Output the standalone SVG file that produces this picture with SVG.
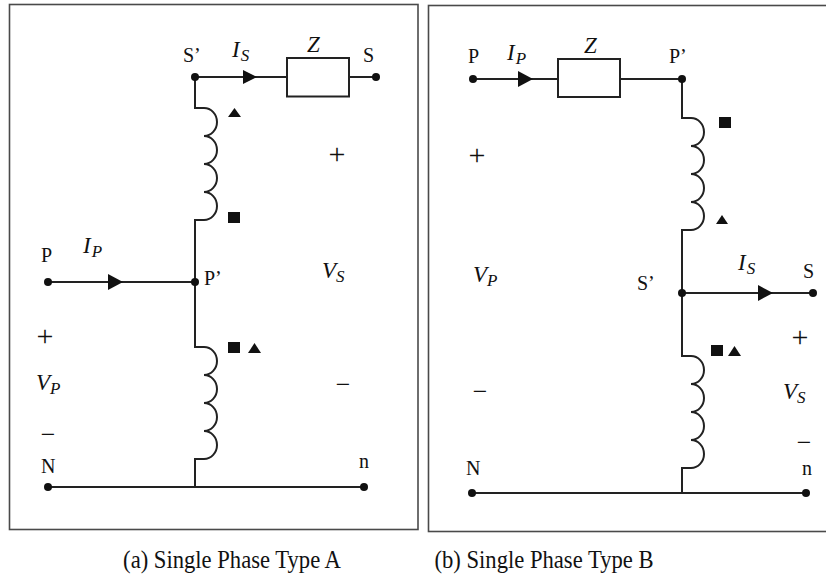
<svg xmlns="http://www.w3.org/2000/svg" width="826" height="579" viewBox="0 0 826 579">
<style>
.frame{fill:none;stroke:#4a4a4a;stroke-width:1.6}
.w{fill:none;stroke:#222;stroke-width:2;stroke-linejoin:miter}
.dot{fill:#111}
.mk{fill:#111}
.t{font-family:'Liberation Serif','Times New Roman',serif;font-size:20px;fill:#111}
.m{font-family:'Liberation Serif','Times New Roman',serif;font-style:italic;font-size:23px;fill:#111}
.sub{font-size:17px}
.pm{font-family:'Liberation Serif','Times New Roman',serif;font-size:30px;fill:#111;text-anchor:middle}
.mn{font-family:'Liberation Serif','Times New Roman',serif;font-size:26px;fill:#111;text-anchor:middle}
.cap{font-family:'Liberation Serif','Times New Roman',serif;font-size:26px;fill:#111;text-anchor:middle}
</style>
<rect width="826" height="579" fill="#fff"/>
<rect class="frame" x="9.5" y="4.5" width="408.5" height="525"/>
<rect class="frame" x="428.5" y="5.5" width="400" height="526"/>

<g id="connectors">
  <path class="w" d="M195,77 H287 M349,77 H376"/>
  <path class="w" d="M195,77 V108 H204 A13 14 0 0 1 204,136 A13 14 0 0 1 204,164 A13 14 0 0 1 204,192 A13 14 0 0 1 204,220 H195 V282"/>
  <path class="w" d="M48,282 H195"/>
  <path class="w" d="M195,282 V347 H204 A13 14 0 0 1 204,375 A13 14 0 0 1 204,403 A13 14 0 0 1 204,431 A13 14 0 0 1 204,459 H195 V487"/>
  <path class="w" d="M48,487 H364"/>
  <polygon class="mk" points="243,70 257,77 243,84"/>
  <polygon class="mk" points="108,274 123,282 108,290"/>
  <path class="w" d="M473,79 H558 M620,79 H682"/>
  <path class="w" d="M682,79 V118 H691 A13 14 0 0 1 691,146 A13 14 0 0 1 691,174 A13 14 0 0 1 691,202 A13 14 0 0 1 691,230 H682 V293"/>
  <path class="w" d="M682,293 H813"/>
  <path class="w" d="M682,293 V356 H691 A13 14 0 0 1 691,384 A13 14 0 0 1 691,412 A13 14 0 0 1 691,440 A13 14 0 0 1 691,468 H682 V493"/>
  <path class="w" d="M472,493 H806"/>
  <polygon class="mk" points="518,71 533,79 518,87"/>
  <polygon class="mk" points="758,285 773,293 758,301"/>
</g>

<g id="panelA">
  <g id="A-Sprime"><circle class="dot" cx="195" cy="77" r="4"/><text class="t" x="183" y="62">S’</text></g>
  <g id="A-Z"><rect class="w" x="287" y="58" width="62" height="38.5"/><text class="m" x="307" y="52">Z</text></g>
  <g id="A-S"><circle class="dot" cx="376" cy="77" r="4"/><text class="t" x="363" y="62">S</text></g>
  <g id="A-IS"><text class="m" x="232" y="57">I<tspan class="sub" dx="1" dy="4">S</tspan></text></g>
  <g id="A-P"><circle class="dot" cx="48" cy="282" r="4"/><text class="t" x="41" y="262">P</text></g>
  <g id="A-IP"><text class="m" x="83" y="253">I<tspan class="sub" dx="1" dy="4">P</tspan></text></g>
  <g id="A-Pprime"><circle class="dot" cx="195" cy="282" r="4"/><text class="t" x="204" y="285">P’</text></g>
  <g id="A-N"><circle class="dot" cx="48" cy="487" r="4"/><text class="t" x="41" y="473">N</text></g>
  <g id="A-n"><circle class="dot" cx="364" cy="487" r="4"/><text class="t" x="359" y="468">n</text></g>
  <g id="A-marks">
    <polygon class="mk" points="228,117 241,117 234.5,108"/>
    <rect class="mk" x="228" y="212" width="12" height="11"/>
    <rect class="mk" x="228" y="342" width="12" height="11"/>
    <polygon class="mk" points="248,353 261,353 254.5,343"/>
  </g>
  <g id="A-VP">
    <text class="pm" x="45" y="346">+</text>
    <text class="m" x="36" y="390">V<tspan class="sub" dy="4">P</tspan></text>
    <text class="mn" x="48" y="443">−</text>
  </g>
  <g id="A-VS">
    <text class="pm" x="337" y="164">+</text>
    <text class="m" x="322" y="278">V<tspan class="sub" dy="4">S</tspan></text>
    <text class="mn" x="343" y="393">−</text>
  </g>
</g>

<g id="panelB">
  <g id="B-P"><circle class="dot" cx="473" cy="79" r="4"/><text class="t" x="468" y="63">P</text></g>
  <g id="B-IP"><text class="m" x="507" y="60">I<tspan class="sub" dx="1" dy="4">P</tspan></text></g>
  <g id="B-Z"><rect class="w" x="558" y="59" width="62" height="38"/><text class="m" x="584" y="53">Z</text></g>
  <g id="B-Pprime"><circle class="dot" cx="682" cy="79" r="4"/><text class="t" x="669" y="63">P’</text></g>
  <g id="B-Sprime"><circle class="dot" cx="682" cy="293" r="4"/><text class="t" x="637" y="290">S’</text></g>
  <g id="B-IS"><text class="m" x="738" y="270">I<tspan class="sub" dx="1" dy="4">S</tspan></text></g>
  <g id="B-S"><circle class="dot" cx="813" cy="293" r="4"/><text class="t" x="803" y="278">S</text></g>
  <g id="B-N"><circle class="dot" cx="472" cy="493" r="4"/><text class="t" x="466" y="475">N</text></g>
  <g id="B-n"><circle class="dot" cx="806" cy="493" r="4"/><text class="t" x="802" y="475">n</text></g>
  <g id="B-marks">
    <rect class="mk" x="719" y="117" width="12" height="11"/>
    <polygon class="mk" points="716,224 728,224 722,215"/>
    <rect class="mk" x="711" y="345" width="12" height="11"/>
    <polygon class="mk" points="728,356 741,356 734.5,346"/>
  </g>
  <g id="B-VP">
    <text class="pm" x="477" y="165">+</text>
    <text class="m" x="473" y="282">V<tspan class="sub" dy="4">P</tspan></text>
    <text class="mn" x="480" y="400">−</text>
  </g>
  <g id="B-VS">
    <text class="pm" x="800" y="347">+</text>
    <text class="m" x="783" y="399">V<tspan class="sub" dy="4">S</tspan></text>
    <text class="mn" x="804" y="451">−</text>
  </g>
</g>

<g id="captions">
  <text class="cap" transform="translate(232,568) scale(0.87,1)">(a) Single Phase Type A</text>
  <text class="cap" transform="translate(544,568) scale(0.87,1)">(b) Single Phase Type B</text>
</g>
</svg>
